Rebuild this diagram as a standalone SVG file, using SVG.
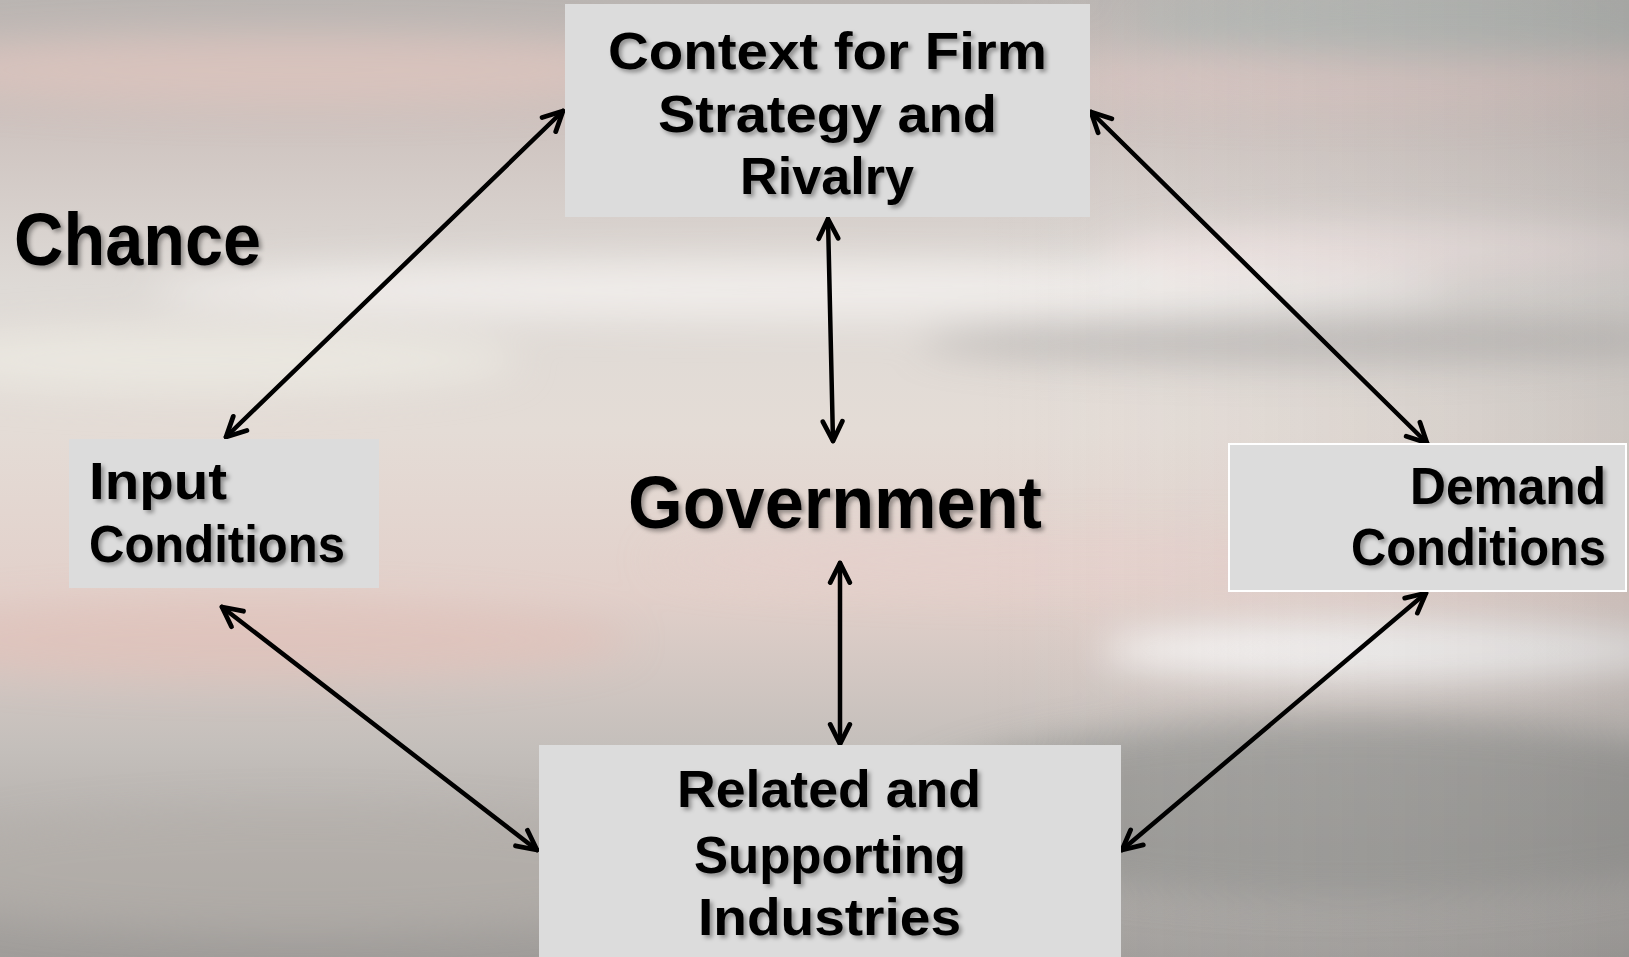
<svg xmlns="http://www.w3.org/2000/svg" width="1629" height="957" viewBox="0 0 1629 957">
<defs>
<linearGradient id="bgv" x1="0" y1="0" x2="0" y2="1">
<stop offset="0" stop-color="#bab5b2"/>
<stop offset="0.12" stop-color="#cdc2be"/>
<stop offset="0.3" stop-color="#dedad6"/>
<stop offset="0.45" stop-color="#e4dcd6"/>
<stop offset="0.62" stop-color="#e2d0ca"/>
<stop offset="0.78" stop-color="#c4bfbb"/>
<stop offset="1" stop-color="#a09d9a"/>
</linearGradient>
<linearGradient id="bgh" x1="0" y1="0" x2="1" y2="0">
<stop offset="0" stop-color="#ffffff" stop-opacity="0"/>
<stop offset="0.6" stop-color="#ffffff" stop-opacity="0"/>
<stop offset="1" stop-color="#6e6e6e" stop-opacity="0.2"/>
</linearGradient>
<filter id="blur" x="-20%" y="-200%" width="140%" height="500%">
<feGaussianBlur stdDeviation="18"/>
</filter>
<filter id="sh" x="-10%" y="-20%" width="120%" height="150%">
<feDropShadow dx="3" dy="3" stdDeviation="2" flood-color="#000" flood-opacity="0.35"/>
</filter>
<marker id="ah" viewBox="0 0 12 12" refX="10.5" refY="6" markerWidth="5.8" markerHeight="5.8" orient="auto-start-reverse" markerUnits="strokeWidth">
<path d="M1.5,1.5 L10.5,6 L1.5,10.5" fill="none" stroke="#000" stroke-width="2.2" stroke-linecap="round" stroke-linejoin="round"/>
</marker>
</defs>
<style>
.box{fill:#dcdcdc;}
.t{font-family:"Liberation Sans","Comic Sans MS",Arial,sans-serif;font-weight:bold;fill:#000;filter:url(#sh);}
.m{font-size:52px;}
.big{font-size:74px;}
.c{stroke:#000;stroke-width:4.5;fill:none;stroke-linecap:round;marker-start:url(#ah);marker-end:url(#ah);}
</style>
<g id="background">
<rect x="0" y="0" width="1629" height="957" fill="url(#bgv)"/>
<g filter="url(#blur)">
<ellipse cx="300" cy="70" rx="420" ry="35" fill="#e4c6c0" opacity="0.6"/>
<ellipse cx="1350" cy="80" rx="380" ry="30" fill="#e2c8c4" opacity="0.5"/>
<ellipse cx="1450" cy="25" rx="320" ry="35" fill="#a8b2ae" opacity="0.55"/>
<ellipse cx="800" cy="290" rx="650" ry="30" fill="#f4f0ee" opacity="0.8"/>
<ellipse cx="1400" cy="250" rx="300" ry="25" fill="#f0e4e2" opacity="0.8"/>
<ellipse cx="1300" cy="340" rx="380" ry="25" fill="#a8a6a4" opacity="0.55"/>
<ellipse cx="200" cy="360" rx="320" ry="35" fill="#eceae2" opacity="0.8"/>
<ellipse cx="250" cy="640" rx="380" ry="40" fill="#e4bfb6" opacity="0.55"/>
<ellipse cx="1100" cy="560" rx="450" ry="30" fill="#e8cfcb" opacity="0.5"/>
<ellipse cx="1400" cy="650" rx="300" ry="30" fill="#fafafa" opacity="0.85"/>
<ellipse cx="1350" cy="810" rx="450" ry="90" fill="#8e8e8c" opacity="0.7"/>
<ellipse cx="300" cy="870" rx="400" ry="60" fill="#b4aeaa" opacity="0.55"/>
</g>
<rect x="0" y="0" width="1629" height="957" fill="url(#bgh)"/>
</g>
<g id="connectors">
<line class="c" x1="563" y1="111" x2="226" y2="437"/>
<line class="c" x1="828" y1="219" x2="833" y2="441"/>
<line class="c" x1="1091" y1="112" x2="1427" y2="443"/>
<line class="c" x1="840" y1="563" x2="840" y2="744"/>
<line class="c" x1="222" y1="607" x2="537" y2="850"/>
<line class="c" x1="1426" y1="593" x2="1122" y2="850"/>
</g>
<g id="chance">
<text class="t big" x="14" y="265" textLength="247" lengthAdjust="spacingAndGlyphs">Chance</text>
</g>
<g id="government">
<text class="t big" x="628" y="528" textLength="414" lengthAdjust="spacingAndGlyphs">Government</text>
</g>
<g id="context">
<rect class="box" x="565" y="4" width="525" height="213"/>
<text class="t m" x="608" y="69" textLength="439" lengthAdjust="spacingAndGlyphs">Context for Firm</text>
<text class="t m" x="658" y="132" textLength="339" lengthAdjust="spacingAndGlyphs">Strategy and</text>
<text class="t m" x="740" y="194" textLength="174" lengthAdjust="spacingAndGlyphs">Rivalry</text>
</g>
<g id="input">
<rect class="box" x="69" y="439" width="310" height="149"/>
<text class="t m" x="89" y="499" textLength="138" lengthAdjust="spacingAndGlyphs">Input</text>
<text class="t m" x="89" y="562" textLength="256" lengthAdjust="spacingAndGlyphs">Conditions</text>
</g>
<g id="demand">
<rect class="box" x="1229" y="444" width="397" height="147" stroke="#ffffff" stroke-width="2"/>
<text class="t m" x="1410" y="504" textLength="196" lengthAdjust="spacingAndGlyphs">Demand</text>
<text class="t m" x="1351" y="565" textLength="255" lengthAdjust="spacingAndGlyphs">Conditions</text>
</g>
<g id="related">
<rect class="box" x="539" y="745" width="582" height="220"/>
<text class="t m" x="677" y="807" textLength="304" lengthAdjust="spacingAndGlyphs">Related and</text>
<text class="t m" x="694" y="873" textLength="272" lengthAdjust="spacingAndGlyphs">Supporting</text>
<text class="t m" x="698" y="935" textLength="263" lengthAdjust="spacingAndGlyphs">Industries</text>
</g>
</svg>
